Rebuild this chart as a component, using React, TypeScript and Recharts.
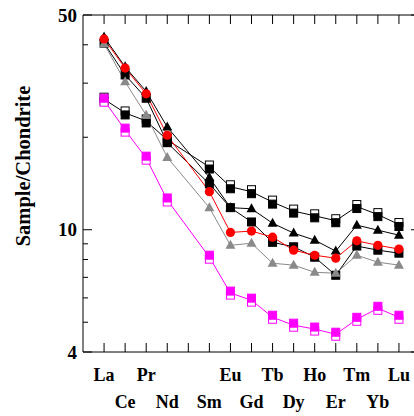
import { LineChart, Line, XAxis, YAxis } from 'recharts'

const FONT = "'Liberation Serif', 'Times New Roman', serif"

const elements = ['La', 'Ce', 'Pr', 'Nd', 'Pm', 'Sm', 'Eu', 'Gd', 'Tb', 'Dy', 'Ho', 'Er', 'Tm', 'Yb', 'Lu']
const xTicks = elements.map((_, i) => i + 1)
const yTicks = [4, 5, 6, 7, 8, 9, 10, 20, 30, 40, 50]
const yLabels = [4, 10, 50]

// Pm is not measured -> null
const openSq = [26.6, 24.0, 22.6, 19.6, null, 16.0, 13.8, 13.3, 12.3, 11.5, 11.1, 10.7, 11.9, 11.2, 10.4]
const filledSq = [40.5, 31.9, 26.8, 19.2, null, 14.1, 11.8, 10.6, 9.1, 8.8, 8.14, 7.11, 8.85, 8.58, 8.39]
const blackTri = [42.4, 33.9, 28.2, 21.6, null, 14.8, 11.8, 11.7, 10.5, 9.75, 9.25, 8.52, 10.35, 9.97, 9.6]
const redCircle = [41.8, 33.6, 27.7, 20.3, null, 13.3, 9.8, 9.9, 9.46, 8.58, 8.26, 8.08, 9.2, 8.9, 8.65]
const grayTri = [40.3, 30.3, 23.6, 17.2, null, 11.8, 8.9, 9.04, 7.78, 7.67, 7.27, 7.22, 8.26, 7.84, 7.67]
const magentaSq = [26.4, 21.1, 17.1, 12.5, null, 8.14, 6.22, 5.9, 5.19, 4.89, 4.75, 4.57, 5.11, 5.55, 5.19]

const data = elements.map((el, i) => ({
  x: i + 1,
  el,
  openSq: openSq[i],
  filledSq: filledSq[i],
  blackTri: blackTri[i],
  redCircle: redCircle[i],
  grayTri: grayTri[i],
  magentaSq: magentaSq[i],
}))

const GRAY = '#8a8a8a'
const MAGENTA = '#ff00ff'

function square(cx: number, cy: number, fill: string, stroke: string) {
  return <rect x={cx - 4} y={cy - 4} width={8} height={8} fill={fill} stroke={stroke} strokeWidth={1} />
}

function makeDot(kind: string, color: string) {
  return (props: any) => {
    const { cx, cy, index } = props
    if (cx == null || cy == null || props.value == null) return <g key={index} />
    if (kind === 'circle') return <circle key={index} cx={cx} cy={cy} r={4.6} fill={color} />
    if (kind === 'tri')
      return <polygon key={index} points={`${cx},${cy - 5.5} ${cx - 5},${cy + 3.5} ${cx + 5},${cy + 3.5}`} fill={color} />
    if (kind === 'square') return <g key={index}>{square(cx, cy, color, color)}</g>
    if (kind === 'openTop')
      return (
        <g key={index}>
          {square(cx, cy - 2, '#fff', color)}
          {square(cx, cy + 2, color, color)}
        </g>
      )
    // filled on top, open square showing below
    return (
      <g key={index}>
        {square(cx, cy + 2, '#fff', color)}
        {square(cx, cy - 2, color, color)}
      </g>
    )
  }
}

function LeftTick({ x, y, payload }: any) {
  const v = payload.value
  const major = yLabels.includes(v)
  return (
    <g>
      <line x1={x} x2={x + (major ? 9 : 5)} y1={y} y2={y} stroke="#000" />
      {major && (
        <text x={x - 6} y={y} dy="0.35em" textAnchor="end" fontFamily={FONT} fontWeight="bold" fontSize={19} fill="#000">
          {v}
        </text>
      )}
    </g>
  )
}

function RightTick({ x, y, payload }: any) {
  const major = yLabels.includes(payload.value)
  return <line x1={x} x2={x - (major ? 9 : 5)} y1={y} y2={y} stroke="#000" />
}

function BottomTick({ x, y, payload }: any) {
  const i = payload.value - 1
  const name = elements[i]
  const topRow = i % 2 === 0
  return (
    <g>
      <line x1={x} x2={x} y1={y} y2={y - 9} stroke="#000" />
      {name !== 'Pm' && (
        <text x={x} y={y + (topRow ? 29 : 56)} textAnchor="middle" fontFamily={FONT} fontWeight="bold" fontSize={18} fill="#000">
          {name}
        </text>
      )}
    </g>
  )
}

function TopTick({ x, y }: any) {
  return <line x1={x} x2={x} y1={y} y2={y + 9} stroke="#000" />
}

function YTitle({ viewBox }: any) {
  const cx = viewBox.x + 27
  const cy = 166
  return (
    <text x={cx} y={cy} transform={`rotate(-90 ${cx} ${cy})`} textAnchor="middle" fontFamily={FONT} fontWeight="bold" fontSize={20.5} fill="#000">
      Sample/Chondrite
    </text>
  )
}

export default function App() {
  return (
    <div style={{ position: 'fixed', top: 0, left: 0, width: 414, height: 416, overflow: 'hidden', background: '#fff' }}>
      <LineChart width={440} height={416} data={data} margin={{ top: 14, right: 19, bottom: 63, left: 3 }}>
        <XAxis
          dataKey="x"
          type="number"
          domain={[0, 16]}
          ticks={xTicks}
          interval={0}
          height={1}
          tickSize={0}
          tickMargin={0}
          tickLine={false}
          tick={<BottomTick />}
          axisLine={{ stroke: '#000' }}
        />
        <XAxis
          xAxisId="top"
          orientation="top"
          dataKey="x"
          type="number"
          domain={[0, 16]}
          ticks={xTicks}
          interval={0}
          height={1}
          tickSize={0}
          tickMargin={0}
          tickLine={false}
          tick={<TopTick />}
          axisLine={{ stroke: '#000' }}
        />
        <YAxis
          type="number"
          scale="log"
          domain={[4, 50]}
          allowDataOverflow
          ticks={yTicks}
          interval={0}
          width={80}
          tickSize={0}
          tickMargin={0}
          tickLine={false}
          tick={<LeftTick />}
          axisLine={{ stroke: '#000' }}
          label={<YTitle />}
        />
        <YAxis
          yAxisId="right"
          orientation="right"
          type="number"
          scale="log"
          domain={[4, 50]}
          allowDataOverflow
          ticks={yTicks}
          interval={0}
          width={1}
          tickSize={0}
          tickMargin={0}
          tickLine={false}
          tick={<RightTick />}
          axisLine={{ stroke: '#000' }}
        />
        <Line dataKey="filledSq" stroke="#000" strokeWidth={1} connectNulls dot={makeDot('square', '#000')} activeDot={false} isAnimationActive={false} />
        <Line dataKey="openSq" stroke="#000" strokeWidth={1} connectNulls dot={makeDot('openTop', '#000')} activeDot={false} isAnimationActive={false} />
        <Line dataKey="blackTri" stroke="#000" strokeWidth={1} connectNulls dot={makeDot('tri', '#000')} activeDot={false} isAnimationActive={false} />
        <Line dataKey="grayTri" stroke={GRAY} strokeWidth={1} connectNulls dot={makeDot('tri', GRAY)} activeDot={false} isAnimationActive={false} />
        <Line dataKey="redCircle" stroke="#ff0000" strokeWidth={1} connectNulls dot={makeDot('circle', '#ff0000')} activeDot={false} isAnimationActive={false} />
        <Line dataKey="magentaSq" stroke={MAGENTA} strokeWidth={1} connectNulls dot={makeDot('openBottom', MAGENTA)} activeDot={false} isAnimationActive={false} />
      </LineChart>
    </div>
  )
}
